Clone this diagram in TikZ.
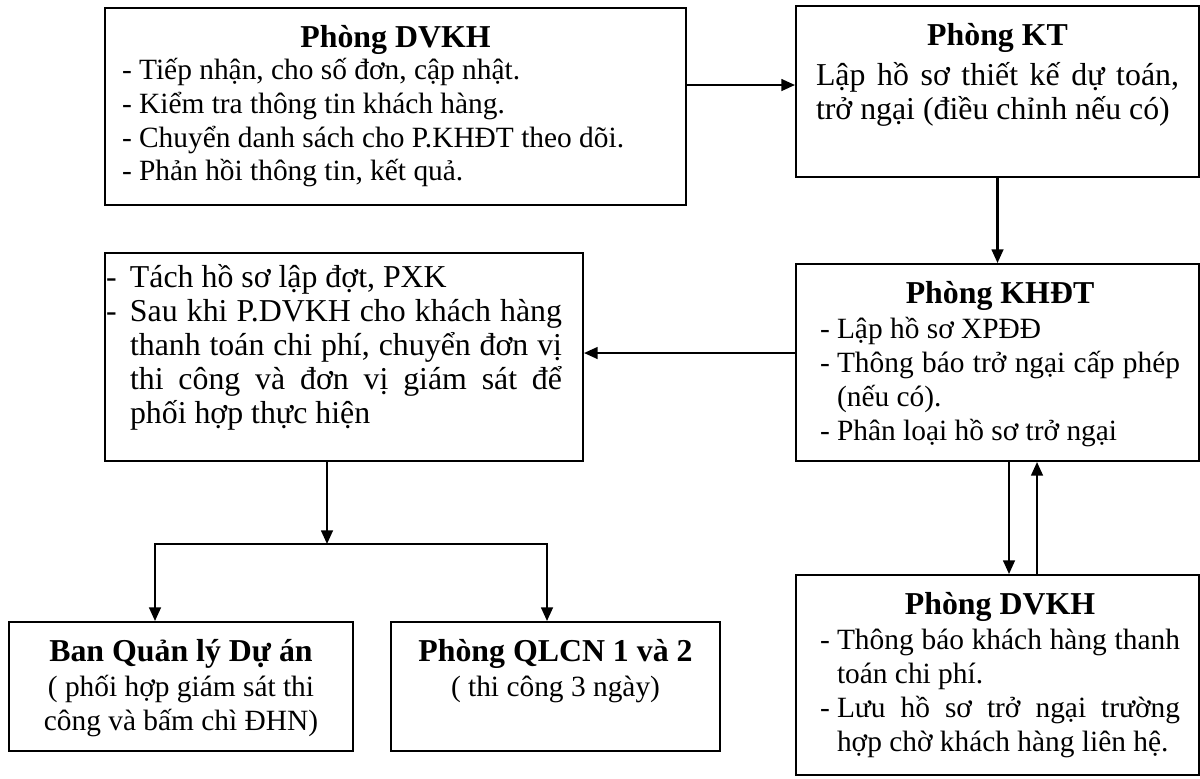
\documentclass[tikz,border=0pt]{standalone}
\usepackage{fontspec}
\setmainfont{Liberation Serif}
\usetikzlibrary{arrows.meta}
\newlength\px
\setlength\px{0.4082pt}
\tikzset{khung/.style={draw, line width=0.8pt, inner sep=0pt, font=\fontsize{12}{13.8}\selectfont},
         chulon/.style={font=\fontsize{13}{13.9}\selectfont},
         muiten/.style={line width=0.9pt, -{Triangle[length=5.6pt,width=4.8pt]}},
         haimui/.style={line width=0.9pt, {Triangle[length=5.6pt,width=4.8pt]}-{Triangle[length=5.6pt,width=4.8pt]}}}
% le trai, rong, le phai, cao, noi dung
\newcommand{\hop}[5]{\hspace*{#1\px}\parbox[c][#4\px][t]{#2\px}{#5}\hspace*{#3\px}}
\newcommand{\tieude}[1]{{\centering\fontsize{13}{15}\selectfont\bfseries\rule{0pt}{16pt}#1\par}\vspace{0.7pt}}
\newcommand{\gach}[2]{\par\hangindent=#1\px\hangafter=1\makebox[#1\px][l]{-}#2\par}

\begin{document}
\begin{tikzpicture}[x=0.4082pt, y=-0.4082pt]
\useasboundingbox (0,0) rectangle (1200,778);

\node[khung] (dvkh) at (395.5,106.5) {\hop{17}{547}{17}{197}{%
  \tieude{Phòng DVKH}\vspace{-1.3pt}
  - Tiếp nhận, cho số đơn, cập nhật.\\
  - Kiểm tra thông tin khách hàng.\\
  - Chuyển danh sách cho P.KHĐT theo dõi.\\
  - Phản hồi thông tin, kết quả.}};

\node[khung, chulon] (kt) at (997.5,91.5) {\hop{20}{363}{20}{171}{%
  \tieude{Phòng KT}\vspace{1.8pt}
  \makebox[\linewidth][s]{Lập hồ sơ thiết kế dự toán,}\\
  trở ngại (điều chỉnh nếu có)}};

\node[khung] (khdt) at (997.5,362.5) {\hop{24}{360}{19}{197}{%
  \tieude{Phòng KHĐT}
  \gach{17}{Lập hồ sơ XPĐĐ}
  \gach{17}{\makebox[343\px][s]{Thông báo trở ngại cấp phép}\\(nếu có).}
  \gach{17}{Phân loại hồ sơ trở ngại}}};

\node[khung, chulon] (tach) at (344,357) {\hop{1}{456}{21}{208}{%
  \gach{24}{\rule{0pt}{14pt}Tách hồ sơ lập đợt, PXK}
  \gach{24}{\makebox[432\px][s]{Sau khi P.DVKH cho khách hàng}\\
    \makebox[432\px][s]{thanh toán chi phí, chuyển đơn vị}\\
    \makebox[432\px][s]{thi công và đơn vị giám sát để}\\
    phối hợp thực hiện}}};

\node[khung] (dvkhb) at (997.5,675) {\hop{24}{360}{19}{200}{%
  \tieude{Phòng DVKH}
  \gach{17}{\makebox[343\px][s]{Thông báo khách hàng thanh}\\toán chi phí.}
  \gach{17}{\makebox[343\px][s]{Lưu hồ sơ trở ngại trường}\\hợp chờ khách hàng liên hệ.}}};

\node[khung] (bqlda) at (181,686.5) {\hop{10}{324}{10}{129}{%
  \tieude{Ban Quản lý Dự án}
  {\centering ( phối hợp giám sát thi\\ công và bấm chì ĐHN)\par}}};

\node[khung] (qlcn) at (555.5,686.5) {\hop{10}{309}{10}{129}{%
  \tieude{Phòng QLCN 1 và 2}
  {\centering ( thi công 3 ngày)\par}}};

% cac diem noi
\coordinate (vaoKT) at ([yshift=6.5\px]kt.west);
\coordinate (raKHDT) at ([yshift=9.5\px]khdt.west);
\coordinate (xuong) at ([xshift=11.5\px]khdt.south);
\coordinate (len) at ([xshift=39.5\px]dvkhb.north);
\coordinate (raTach) at ([xshift=-17\px]tach.south);
\coordinate (nhanh) at (327,544);
\coordinate (nhanhTrai) at (155,544);
\coordinate (nhanhPhai) at (547,544);

\draw[muiten] (vaoKT -| dvkh.east) -- (vaoKT);
\draw[muiten] (kt.south) -- (khdt.north);
\draw[muiten] (raKHDT) -- (raKHDT -| tach.east);
\draw[muiten] (xuong) -- (xuong |- dvkhb.north);
\draw[muiten] (len) -- (len |- khdt.south);
\draw[muiten] (raTach) -- (nhanh);
\draw[haimui] (nhanhTrai |- bqlda.north) -- (nhanhTrai) -- (nhanhPhai) -- (nhanhPhai |- qlcn.north);

\end{tikzpicture}
\end{document}
